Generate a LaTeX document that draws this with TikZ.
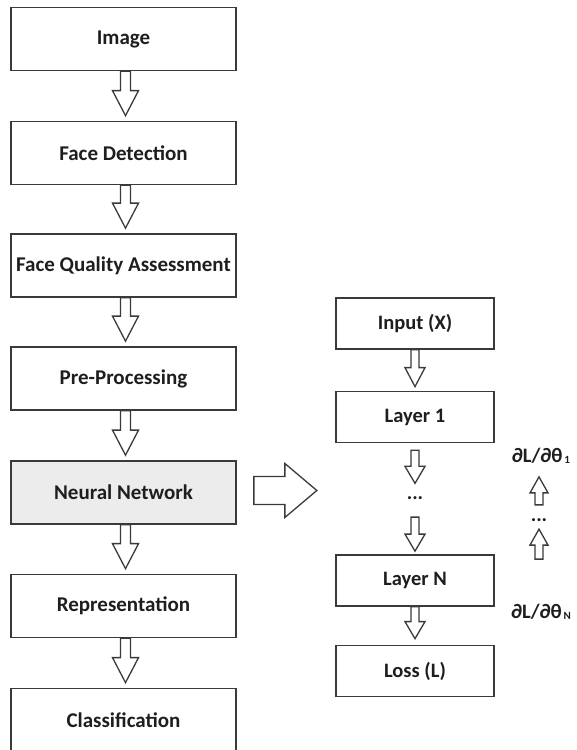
\documentclass[tikz,border=0pt]{standalone}
\usepackage{fontspec}
\setmainfont{Carlito}
\usetikzlibrary{calc}
\definecolor{edge}{HTML}{3A3A3A}
\definecolor{txt}{HTML}{1E1E1E}
\definecolor{nnfill}{HTML}{ECECEC}
\tikzset{
  lbox/.style={draw=edge, line width=1.7pt, minimum width=225pt, minimum height=63pt,
    inner sep=0pt, font=\fontsize{21}{23}\selectfont\bfseries, text=txt},
  rbox/.style={draw=edge, line width=1.7pt, minimum width=158pt, minimum height=51pt,
    inner sep=0pt, font=\fontsize{20.5}{23}\selectfont\bfseries, text=txt},
  blk/.style={draw=edge, line width=1.3pt, fill=white, line join=miter},
  lbl/.style={font=\fontsize{20.5}{23}\selectfont\bfseries, text=txt, inner sep=0pt},
}
% vertical block arrow: #1 start, #2 tip, #3 shaft half width, #4 head half width, #5 head length (signed)
\newcommand\vblock[5]{%
  \draw[blk] ($(#1)+(-#3,0)$) -- ($(#2)+(-#3,#5)$) -- ($(#2)+(-#4,#5)$) -- (#2)
    -- ($(#2)+(#4,#5)$) -- ($(#2)+(#3,#5)$) -- ($(#1)+(#3,0)$) -- cycle;}
\begin{document}
\begin{tikzpicture}[x=1pt,y=1pt]
\useasboundingbox (0,0) rectangle (577,750);
% left column
\node[lbox] (img) at (123.5,711) {Image};
\node[lbox] (fd)  at (123.5,597) {Face Detection};
\node[lbox] (fqa) at (123.5,484.5) {Face Quality Assessment};
\node[lbox] (pp)  at (123.5,371.5) {Pre-Processing};
\node[lbox, fill=nnfill] (nn) at (123.5,257.5) {Neural Network};
\node[lbox] (rep) at (123.5,144) {Representation};
\node[lbox] (cls) at (123.5,30) {Classification};
% left arrows
\coordinate (t1) at ($(fd.north)+(2,5)$);  \vblock{$(img.south)+(2,0)$}{t1}{5}{13}{25}
\coordinate (t2) at ($(fqa.north)+(2,5)$); \vblock{$(fd.south)+(2,0)$}{t2}{5}{13}{25}
\coordinate (t3) at ($(pp.north)+(2,5)$);  \vblock{$(fqa.south)+(2,0)$}{t3}{5}{13}{25}
\coordinate (t4) at ($(nn.north)+(2,5)$);  \vblock{$(pp.south)+(2,0)$}{t4}{5}{13}{25}
\coordinate (t5) at ($(rep.north)+(2,5)$); \vblock{$(nn.south)+(2,0)$}{t5}{5}{13}{25}
\coordinate (t6) at ($(cls.north)+(2,5)$); \vblock{$(rep.south)+(2,0)$}{t6}{5}{13}{25}
% right column
\node[rbox] (in) at (415,426.5) {Input (X)};
\node[rbox] (l1) at (415,333) {Layer 1};
\node[lbl]  (dd) at (415,252) {...};
\node[rbox] (ln) at (415,169.5) {Layer N};
\node[rbox] (loss) at (415,79) {Loss (L)};
\coordinate (r1) at ($(l1.north)+(0,4)$);  \vblock{in.south}{r1}{4}{10}{19}
\coordinate (r2s) at ($(l1.south)+(0,-7)$);
\coordinate (r2) at ($(l1.south)+(0,-40)$);  \vblock{r2s}{r2}{4}{10}{17}
\coordinate (r3s) at ($(ln.north)+(0,37)$);
\coordinate (r3) at ($(ln.north)+(0,3)$);  \vblock{r3s}{r3}{4}{10}{17}
\coordinate (r4) at ($(loss.north)+(0,6)$); \vblock{ln.south}{r4}{4}{10}{17}
% big arrow
\coordinate (bs) at ($(nn.east)+(17,2)$);
\coordinate (bt) at ($(nn.east)+(80,2)$);
\draw[blk] ($(bs)+(0,14)$) -- ($(bt)+(-32,14)$) -- ($(bt)+(-32,27)$) -- (bt)
  -- ($(bt)+(-32,-27)$) -- ($(bt)+(-32,-14)$) -- ($(bs)+(0,-14)$) -- cycle;
% gradients
\node[lbl] (g1) at (541,294) {∂L/∂θ{\fontsize{11}{11}\selectfont\,\raisebox{-1pt}{1}}};
\node[lbl] (gd) at (539,230) {...};
\node[lbl] (gn) at (541,138) {∂L/∂θ{\fontsize{11}{11}\selectfont\,\raisebox{-1pt}{N}}};
\coordinate (u1s) at ($(g1.south)+(-2,-41)$);
\coordinate (u1t) at ($(g1.south)+(-2,-13)$);
\vblock{u1s}{u1t}{4}{9}{-16}
\coordinate (u2s) at ($(gn.north)+(-2,45)$);
\coordinate (u2t) at ($(gn.north)+(-2,75)$);
\vblock{u2s}{u2t}{4}{9}{-16}
\end{tikzpicture}
\end{document}
